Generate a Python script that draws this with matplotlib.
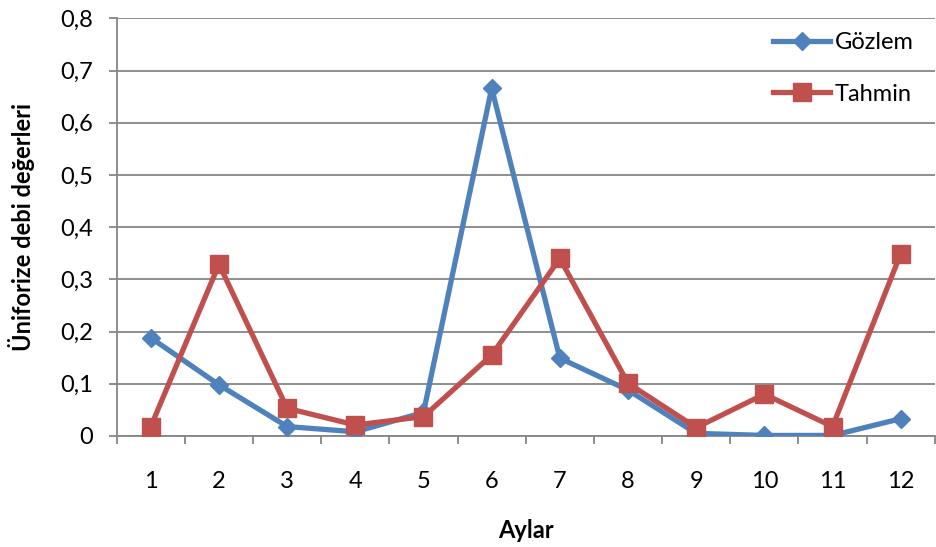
import matplotlib
matplotlib.use("Agg")
import matplotlib.pyplot as plt
import numpy as np

plt.rcParams['font.family'] = ['Lato', 'DejaVu Sans']

months = [1, 2, 3, 4, 5, 6, 7, 8, 9, 10, 11, 12]
month_labels = ["1", "2", "3", "4", "5", "6", "7", "8", "9", "10", "11", "12"]
gozlem = [0.188, 0.098, 0.018, 0.008, 0.045, 0.666, 0.149, 0.088, 0.005, 0.001, 0.001, 0.033]
tahmin = [0.018, 0.329, 0.053, 0.021, 0.037, 0.155, 0.340, 0.101, 0.016, 0.080, 0.018, 0.349]
y_ticks = [0, 0.1, 0.2, 0.3, 0.4, 0.5, 0.6, 0.7, 0.8]
y_tick_labels = ["0", "0,1", "0,2", "0,3", "0,4", "0,5", "0,6", "0,7", "0,8"]

blue = "#4F81BD"
red = "#C0504D"
grid_gray = "#868686"
fs = 17

fig = plt.figure(figsize=(9.36, 5.47), dpi=100)
ax = fig.add_axes([0.1247, 0.203, 0.874, 0.7635])

ax.plot(months, gozlem, color=blue, lw=3.8, marker="D", ms=9.5, label="Gözlem", zorder=3)
ax.plot(months, tahmin, color=red, lw=3.8, marker="s", ms=13, label="Tahmin", zorder=4)

ax.set_xlim(0.5, 12.5)
ax.set_ylim(0, 0.8)

ax.set_yticks(y_ticks)
ax.set_yticklabels(y_tick_labels)
ax.yaxis.grid(True, color=grid_gray, lw=1.3)
ax.set_axisbelow(True)

# Category labels at centres, tick marks at the boundaries
ax.set_xticks(months)
ax.set_xticklabels(month_labels)
ax.set_xticks(np.arange(0.5, 13, 1), minor=True)
ax.tick_params(axis="x", which="major", length=0, pad=25, labelsize=fs)
ax.tick_params(axis="x", which="minor", length=6, width=1.3, color=grid_gray)
ax.tick_params(axis="y", which="major", length=6, width=1.3, color=grid_gray, pad=11, labelsize=fs)

for side in ["top", "right"]:
    ax.spines[side].set_visible(False)
for side in ["left", "bottom"]:
    ax.spines[side].set_color(grid_gray)
    ax.spines[side].set_linewidth(1.3)

ax.set_xlabel("Aylar", fontsize=fs, fontweight="bold", labelpad=20)
ax.set_ylabel("Üniforize debi değerleri", fontsize=fs, fontweight="bold", labelpad=18)

leg = ax.legend(loc="upper right", bbox_to_anchor=(1.0, 1.017), frameon=False, fontsize=fs,
                handlelength=2.4, labelspacing=1.28, handletextpad=0.2)

fig.savefig("out.png", dpi=100)
